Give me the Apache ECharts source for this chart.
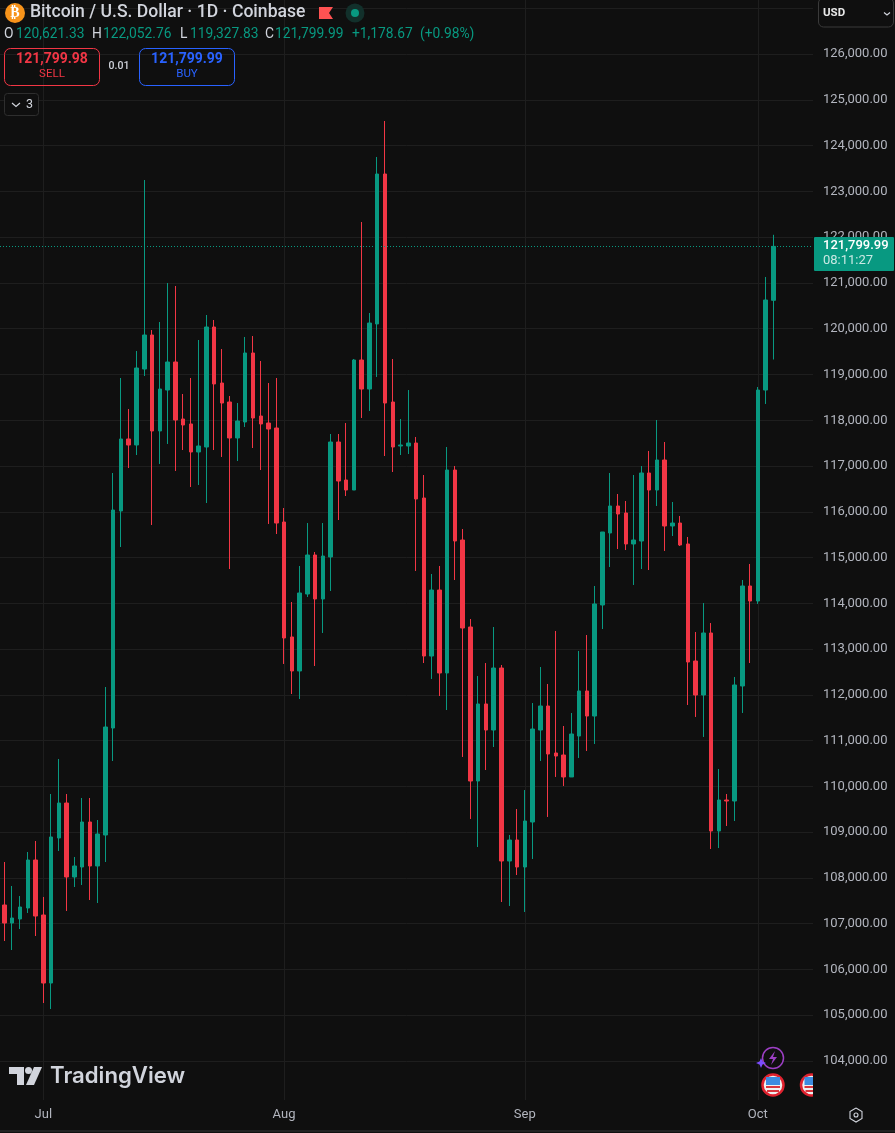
<!DOCTYPE html>
<html>
<head>
<meta charset="utf-8">
<style>
  html,body{margin:0;padding:0;background:#0f0f0f;}
  #chart{width:895px;height:1133px;}
</style>
<script src="https://cdn.jsdelivr.net/npm/echarts@6/dist/echarts.min.js"></script>
</head>
<body>
<div id="chart"></div>
<script>
// daily candles, 26 Jun - 3 Oct 2025
const dates = [
  '2025-06-26','2025-06-27','2025-06-28','2025-06-29','2025-06-30',
  '2025-07-01','2025-07-02','2025-07-03','2025-07-04','2025-07-05','2025-07-06','2025-07-07','2025-07-08','2025-07-09','2025-07-10','2025-07-11',
  '2025-07-12','2025-07-13','2025-07-14','2025-07-15','2025-07-16','2025-07-17','2025-07-18','2025-07-19','2025-07-20','2025-07-21','2025-07-22',
  '2025-07-23','2025-07-24','2025-07-25','2025-07-26','2025-07-27','2025-07-28','2025-07-29','2025-07-30','2025-07-31',
  '2025-08-01','2025-08-02','2025-08-03','2025-08-04','2025-08-05','2025-08-06','2025-08-07','2025-08-08','2025-08-09','2025-08-10','2025-08-11',
  '2025-08-12','2025-08-13','2025-08-14','2025-08-15','2025-08-16','2025-08-17','2025-08-18','2025-08-19','2025-08-20','2025-08-21','2025-08-22',
  '2025-08-23','2025-08-24','2025-08-25','2025-08-26','2025-08-27','2025-08-28','2025-08-29','2025-08-30','2025-08-31',
  '2025-09-01','2025-09-02','2025-09-03','2025-09-04','2025-09-05','2025-09-06','2025-09-07','2025-09-08','2025-09-09','2025-09-10','2025-09-11',
  '2025-09-12','2025-09-13','2025-09-14','2025-09-15','2025-09-16','2025-09-17','2025-09-18','2025-09-19','2025-09-20','2025-09-21','2025-09-22',
  '2025-09-23','2025-09-24','2025-09-25','2025-09-26','2025-09-27','2025-09-28','2025-09-29','2025-09-30',
  '2025-10-01','2025-10-02','2025-10-03'
];
const opens = [
  107409,107015,107103,107343,108392,107190,105704,108873,109637,108021,108239,109222,108261,108938,111276,116018,
  117591,117460,119120,119863,117766,118661,119273,118028,117919,117307,117416,120038,118814,118399,117613,117962,
  119470,118093,117940,117831,115777,113265,112522,114204,115056,114095,115013,117525,116695,116476,119317,118683,
  120104,123381,118399,117438,117438,117503,116302,112849,114291,112478,116913,115384,113483,110118,111801,111232,
  112587,108370,108829,108239,109222,111232,111757,110730,110686,110206,111101,112085,111538,113964,115537,116127,
  115974,115297,115362,116848,116476,117132,115690,115755,115297,112740,111997,113352,109026,109703,109681,112194,
  114379,114051,118661,120621.33
];
const closes = [
  107015,107125,107365,108392,107168,105704,108895,109637,108021,108261,109222,108261,108960,111298,116039,117591,
  117460,119142,119863,117766,118683,119273,118006,117897,117307,117438,120038,118793,118377,117613,117984,119470,
  118050,117919,117809,115755,113243,112522,114226,115056,114095,115034,117525,116673,116476,119317,118683,120125,
  123381,118377,117416,117460,117503,116280,112849,114291,112478,116913,115362,113461,110118,111801,111232,112587,
  108370,108829,108239,109244,111254,111757,110708,110664,110206,111145,112085,111538,113986,115559,116127,115952,
  115297,115384,116848,116476,117132,115690,115755,115275,112718,111997,113352,109026,109703,109681,112216,114379,
  114051,118661,120628,121799.99
];
const lows = [
  106622,106425,106884,107234,106731,105267,105136,108589,107278,107802,107846,107518,107452,108348,110555,115231,
  116957,117241,118967,115712,117045,117482,116892,117350,116542,116586,116192,117350,117198,114750,117110,117853,
  117394,116913,115734,115515,112675,112019,111910,114139,112631,113352,114270,115821,116345,116476,118050,118203,
  118946,117219,116870,117241,117263,114707,112696,112347,111975,111669,114510,110643,109288,108676,110358,110861,
  107474,107387,108064,107256,108414,110555,109332,110206,110009,110206,110621,110774,110927,113439,114794,115187,
  115165,114401,114750,114728,116127,115144,115471,115253,111779,111517,111080,108632,108654,109135,109244,111604,
  112696,113986,118356,119327.83
];
const highs = [
  108348,107824,107605,108567,108807,107584,109834,110599,109834,108458,109747,109747,109266,112172,116848,118924,
  118246,119514,123250,119972,120147,120999,120934,118574,118924,119754,120300,120191,119557,118530,118377,119820,
  119841,119295,118814,118924,116083,114029,114816,115755,115122,115755,117700,117700,117940,119339,122332,120344,
  123753,124539,119339,118028,118661,117635,116804,114641,114816,117416,117001,115624,113658,112412,112696,113483,
  112653,108938,109506,109921,111822,112609,112238,113396,111320,111604,112959,113308,114379,115559,116848,116389,
  116236,116804,117001,117329,118006,117525,116214,115908,115450,113374,114007,113570,110380,109834,112391,114510,
  114860,118727,121131,122052.76
];
const lastPrice = 121799.99;
const gridTicks = [104000,105000,106000,107000,108000,109000,110000,111000,112000,113000,114000,115000,116000,
  117000,118000,119000,120000,121000,122000,123000,124000,125000,126000,127000];
const priceLabels = gridTicks.slice(0, -1);
const monthStarts = ['2025-07-01','2025-08-01','2025-09-01','2025-10-01'];
const monthNames = ['Jul','Aug','Sep','Oct'];

const UP = '#089981', DOWN = '#f23645', BG = '#0f0f0f', GRID = '#1e1e1e';
const TXT = '#d1d4dc', AXIS_TXT = '#b2b5be';
const FONT = 'Roboto';

function txt(x, y, text, fill, size, weight, align, font) {
  return {
    type: 'text', z: 100, x: x, y: y,
    style: {
      text: text, fill: fill, font: (weight || 'normal') + ' ' + size + 'px ' + (font || FONT),
      textAlign: align || 'left', textVerticalAlign: 'middle'
    }
  };
}
function box(x, y, w, h, r, stroke, fill) {
  return {
    type: 'rect', z: 100, shape: { x: x, y: y, width: w, height: h, r: r },
    style: { stroke: stroke || null, fill: fill || 'transparent', lineWidth: 1 }
  };
}
function circle(cx, cy, r, fill, stroke, lw) {
  return {
    type: 'circle', z: 100, shape: { cx: cx, cy: cy, r: r },
    style: { fill: fill || 'transparent', stroke: stroke || null, lineWidth: lw || 1 }
  };
}
function poly(points, fill) {
  return { type: 'polygon', z: 100, shape: { points: points }, style: { fill: fill } };
}
function line(points, stroke, lw) {
  return { type: 'polyline', z: 100, shape: { points: points }, style: { stroke: stroke, lineWidth: lw || 1, fill: null } };
}
function flagCoin(cx, cy) {
  return [
    circle(cx, cy, 10.5, '#f0f0f0', '#e0222f', 2.5),
    { type: 'rect', z: 100, shape: { x: cx - 7, y: cy - 8, width: 14, height: 8 }, style: { fill: '#3c8be0' } },
    { type: 'rect', z: 100, shape: { x: cx - 7, y: cy + 1, width: 14, height: 2 }, style: { fill: '#d9363e' } },
    { type: 'rect', z: 100, shape: { x: cx - 6, y: cy + 5, width: 12, height: 2 }, style: { fill: '#d9363e' } }
  ];
}

const overlays = [
  // header
  circle(15, 13, 10, '#f7931a'),
  txt(15, 13.5, '₿', '#fff', 14, 'bold', 'center', 'DejaVu Sans'),
  txt(30, 13, 'Bitcoin / U.S. Dollar · 1D · Coinbase', TXT, 17.6, '500'),
  poly([[319, 7], [333, 7], [329, 13], [333, 19], [319, 19]], '#ff5252'),
  circle(355, 13, 9.5, '#12302b'),
  circle(355, 13, 4, UP),
  txt(4, 35, 'O', TXT, 13.8),
  txt(16, 35, '120,621.33', UP, 13.8),
  txt(92, 35, 'H', TXT, 13.8),
  txt(103, 35, '122,052.76', UP, 13.8),
  txt(180, 35, 'L', TXT, 13.8),
  txt(190, 35, '119,327.83', UP, 13.8),
  txt(265, 35, 'C', TXT, 13.8),
  txt(275, 35, '121,799.99', UP, 13.8),
  txt(352, 35, '+1,178.67', UP, 13.8),
  txt(420, 35, '(+0.98%)', UP, 13.8),
  // sell / buy
  box(4.5, 48.5, 95, 37, 6, DOWN),
  txt(52, 59, '121,799.98', DOWN, 14, 'bold', 'center'),
  txt(52, 74, 'SELL', DOWN, 11.5, 'normal', 'center'),
  txt(119, 66.5, '0.01', TXT, 10.5, '500', 'center'),
  box(139.5, 48.5, 95, 37, 6, '#2962ff'),
  txt(187, 59, '121,799.99', '#2962ff', 14, 'bold', 'center'),
  txt(187, 74, 'BUY', '#2962ff', 11.5, 'normal', 'center'),
  // collapsed indicators button
  box(4.5, 93.5, 34, 22, 3, '#2e2e2e', BG),
  line([[12, 103], [16, 106.5], [20, 103]], TXT, 1.2),
  txt(26, 104.5, '3', TXT, 12.5),
  // currency button
  box(818.5, -2, 75, 29, 5, '#3a3a3a', BG),
  txt(823, 13.5, 'USD', '#e8e8e8', 11.5, 'bold'),
  line([[884, 12.5], [887, 15], [890, 12.5]], TXT, 1.2),
  // last price tag
  box(814, 237, 80, 34, 1, null, UP),
  txt(823, 245.5, '121,799.99', '#fff', 13, '500'),
  txt(823, 261, '08:11:27', 'rgba(255,255,255,0.78)', 13),
  // logo
  poly([[9, 1067], [24, 1067], [24, 1085], [17, 1085], [17, 1074], [9, 1074]], TXT),
  circle(28.5, 1070.5, 3.5, TXT),
  poly([[34, 1067], [42, 1067], [34, 1085], [26, 1085]], TXT),
  txt(50, 1076, 'TradingView', TXT, 22.2, '600', 'left', 'Inter'),
  // event markers
  circle(773, 1058, 10.5, BG, '#9c3fc4', 1.5),
  poly([[775, 1051], [769, 1059], [773, 1059], [771, 1065], [777, 1057], [773, 1057]], '#9c3fc4'),
  poly([[761, 1058], [762.5, 1061.5], [766, 1063], [762.5, 1064.5], [761, 1068], [759.5, 1064.5], [756, 1063], [759.5, 1061.5]], '#7c4dff')
].concat(flagCoin(773, 1085), flagCoin(811.5, 1085), [
  box(813, 1070, 12, 30, 0, null, BG),
  // settings hexagon
  line([[856, 1108], [862, 1111.5], [862, 1118.5], [856, 1122], [850, 1118.5], [850, 1111.5], [856, 1108]], TXT, 1.1),
  circle(856, 1115, 2, null, TXT, 1.1),
  // bottom rule
  line([[0, 1131], [895, 1131]], '#2a2a2a', 1.5)
]);

// x is the position of the day in dates, the value axis keeps the empty room on the right
const candles = dates.map((d, i) => [i, opens[i], closes[i], lows[i], highs[i]]);
const monthTicks = monthStarts.map(d => dates.indexOf(d));

const chart = echarts.init(document.getElementById('chart'));
chart.setOption({
  animation: false,
  backgroundColor: BG,
  grid: { left: 0, top: 0, width: 813, height: 1100 },
  xAxis: {
    type: 'value',
    min: -0.576,
    max: 104.11,
    axisLine: { show: false },
    axisTick: { show: false, customValues: monthTicks },
    splitLine: { show: true, lineStyle: { color: GRID, width: 1 } },
    axisLabel: {
      customValues: monthTicks,
      margin: 8,
      color: AXIS_TXT,
      fontFamily: FONT,
      fontSize: 13,
      formatter: function (val) {
        return monthNames[monthTicks.indexOf(val)];
      }
    }
  },
  yAxis: {
    type: 'value',
    position: 'right',
    min: 103148,
    max: 127183,
    axisLine: { show: false },
    axisTick: { show: false, customValues: gridTicks },
    splitLine: { show: true, lineStyle: { color: GRID, width: 1 } },
    axisLabel: {
      customValues: priceLabels,
      margin: 10,
      color: AXIS_TXT,
      fontFamily: FONT,
      fontSize: 13,
      formatter: function (val) {
        return val.toLocaleString('en-US', { minimumFractionDigits: 2, maximumFractionDigits: 2 });
      }
    }
  },
  series: [{
    type: 'candlestick',
    data: candles,
    barWidth: 4,
    itemStyle: {
      color: UP, color0: DOWN,
      borderColor: UP, borderColor0: DOWN,
      borderWidth: 1
    },
    markLine: {
      silent: true,
      symbol: 'none',
      label: { show: false },
      lineStyle: { color: UP, type: [1, 2], width: 1 },
      data: [{ yAxis: lastPrice }]
    }
  }],
  graphic: { elements: overlays }
});
</script>
</body>
</html>
